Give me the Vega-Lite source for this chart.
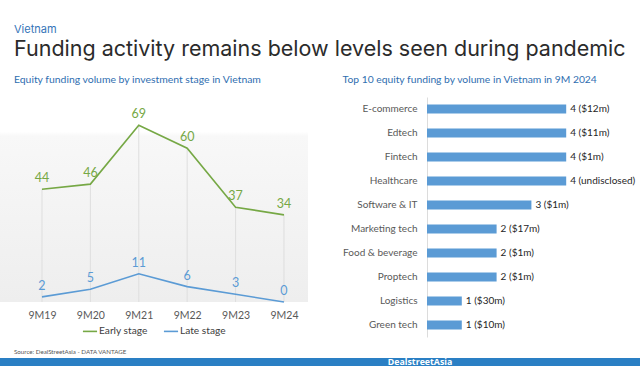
{
  "$schema": "https://vega.github.io/schema/vega-lite/v6.json",
  "background": "white",
  "padding": {"left": 0, "top": 23, "right": 0, "bottom": 0},
  "config": {
    "font": "Lato",
    "view": {"stroke": null},
    "axis": {"labelFont": "Lato"},
    "legend": {"labelFont": "Lato", "layout": {"bottom": {"anchor": "middle"}}},
    "title": {"font": "Lato"}
  },
  "title": {
    "text": "Vietnam",
    "subtitle": "Funding activity remains below levels seen during pandemic",
    "anchor": "start",
    "dx": 14,
    "font": "Inter",
    "fontSize": 11,
    "fontWeight": "normal",
    "color": "#3574b8",
    "subtitleFont": "Inter",
    "subtitleFontSize": 21.5,
    "subtitleColor": "#2b2b2b",
    "subtitlePadding": 4,
    "offset": 15
  },
  "resolve": {"scale": {"color": "independent"}, "legend": {"color": "independent"}},
  "spacing": 12,
  "vconcat": [
    {
      "spacing": 34,
      "resolve": {"scale": {"color": "independent"}, "legend": {"color": "independent"}},
      "hconcat": [
        {
          "width": 308,
          "height": 205,
          "title": {
            "text": "Equity funding volume by investment stage in Vietnam",
            "anchor": "start",
            "frame": "group",
            "dx": 14,
            "fontSize": 10.4,
            "fontWeight": "normal",
            "color": "#2f6eb0",
            "offset": 11.5
          },
          "view": {
            "stroke": null,
            "fill": {
              "gradient": "linear",
              "x1": 0, "y1": 0, "x2": 0, "y2": 1,
              "stops": [
                {"offset": 0, "color": "#ffffff"},
                {"offset": 0.17, "color": "#ffffff"},
                {"offset": 0.19, "color": "#f8f8f8"},
                {"offset": 1, "color": "#eeeeee"}
              ]
            }
          },
          "data": {
            "values": [
              {"period": "9M19", "stage": "Early stage", "count": 44},
              {"period": "9M20", "stage": "Early stage", "count": 46},
              {"period": "9M21", "stage": "Early stage", "count": 69},
              {"period": "9M22", "stage": "Early stage", "count": 60},
              {"period": "9M23", "stage": "Early stage", "count": 37},
              {"period": "9M24", "stage": "Early stage", "count": 34},
              {"period": "9M19", "stage": "Late stage", "count": 2},
              {"period": "9M20", "stage": "Late stage", "count": 5},
              {"period": "9M21", "stage": "Late stage", "count": 11},
              {"period": "9M22", "stage": "Late stage", "count": 6},
              {"period": "9M23", "stage": "Late stage", "count": 3},
              {"period": "9M24", "stage": "Late stage", "count": 0}
            ]
          },
          "encoding": {
            "x": {
              "field": "period",
              "type": "ordinal",
              "scale": {"type": "point", "padding": 0.682, "align": 0.636},
              "axis": {
                "title": null,
                "domain": false,
                "ticks": false,
                "grid": false,
                "labelAngle": 0,
                "labelColor": "#595959",
                "labelFontSize": 10.5,
                "labelPadding": 8
              }
            },
            "y": {
              "field": "count",
              "type": "quantitative",
              "scale": {"domain": [0, 80]},
              "axis": null
            },
            "color": {
              "field": "stage",
              "type": "nominal",
              "scale": {"domain": ["Early stage", "Late stage"], "range": ["#76a845", "#5b9bd5"]},
              "legend": {
                "title": null,
                "orient": "bottom",
                "direction": "horizontal",
                "symbolType": "stroke",
                "symbolSize": 200,
                "symbolStrokeWidth": 1.6,
                "labelFontSize": 10.2,
                "labelColor": "#404040",
                "labelOffset": 1,
                "columnPadding": 12,
                "offset": 2
              }
            }
          },
          "layer": [
            {
              "transform": [{"filter": "datum.stage === 'Early stage'"}],
              "mark": {"type": "rule", "strokeWidth": 1},
              "encoding": {"y2": {"datum": 0}, "color": {"value": "#dedede"}}
            },
            {
              "mark": {"type": "line", "strokeWidth": 1.6}
            },
            {
              "mark": {"type": "text", "dy": -11, "fontSize": 12.5},
              "encoding": {
                "text": {"field": "count", "type": "quantitative"}
              }
            }
          ]
        },
        {
          "width": 174,
          "height": 240,
          "title": {
            "text": "Top 10 equity funding by volume in Vietnam in 9M 2024",
            "anchor": "start",
            "frame": "bounds",
            "fontSize": 10.3,
            "fontWeight": "normal",
            "color": "#2f6eb0",
            "offset": 11.5
          },
          "data": {
            "values": [
              {"sector": "E-commerce", "deals": 4, "label": "4 ($12m)"},
              {"sector": "Edtech", "deals": 4, "label": "4 ($11m)"},
              {"sector": "Fintech", "deals": 4, "label": "4 ($1m)"},
              {"sector": "Healthcare", "deals": 4, "label": "4 (undisclosed)"},
              {"sector": "Software & IT", "deals": 3, "label": "3 ($1m)"},
              {"sector": "Marketing tech", "deals": 2, "label": "2 ($17m)"},
              {"sector": "Food & beverage", "deals": 2, "label": "2 ($1m)"},
              {"sector": "Proptech", "deals": 2, "label": "2 ($1m)"},
              {"sector": "Logistics", "deals": 1, "label": "1 ($30m)"},
              {"sector": "Green tech", "deals": 1, "label": "1 ($10m)"}
            ]
          },
          "encoding": {
            "y": {
              "field": "sector",
              "type": "nominal",
              "sort": null,
              "scale": {"paddingInner": 0.62, "paddingOuter": 0.31},
              "axis": {
                "title": null,
                "domain": true,
                "domainColor": "#dcdcdc",
                "ticks": false,
                "labelColor": "#595959",
                "labelFontSize": 10,
                "labelPadding": 10
              }
            },
            "x": {
              "field": "deals",
              "type": "quantitative",
              "scale": {"domain": [0, 5]},
              "axis": null
            }
          },
          "layer": [
            {"mark": {"type": "bar", "color": "#5b9bd5"}},
            {
              "mark": {"type": "text", "align": "left", "dx": 4, "fontSize": 10, "color": "#262626"},
              "encoding": {"text": {"field": "label", "type": "nominal"}}
            }
          ]
        }
      ]
    },
    {
      "width": 640,
      "height": 9,
      "title": {
        "text": "Source: DealStreetAsia - DATA VANTAGE",
        "anchor": "start",
        "frame": "group",
        "dx": 14,
        "fontSize": 6.2,
        "fontWeight": "normal",
        "color": "#555555",
        "offset": 2
      },
      "view": {"stroke": null, "fill": "#2a7fc4"},
      "data": {"values": [{"brand": "DealstreetAsia"}]},
      "mark": {"type": "text", "align": "center", "dx": 100, "dy": -1, "fontSize": 8.8, "fontWeight": "bold", "color": "#ffffff", "font": "Open Sans"},
      "encoding": {"text": {"field": "brand", "type": "nominal"}}
    }
  ]
}
